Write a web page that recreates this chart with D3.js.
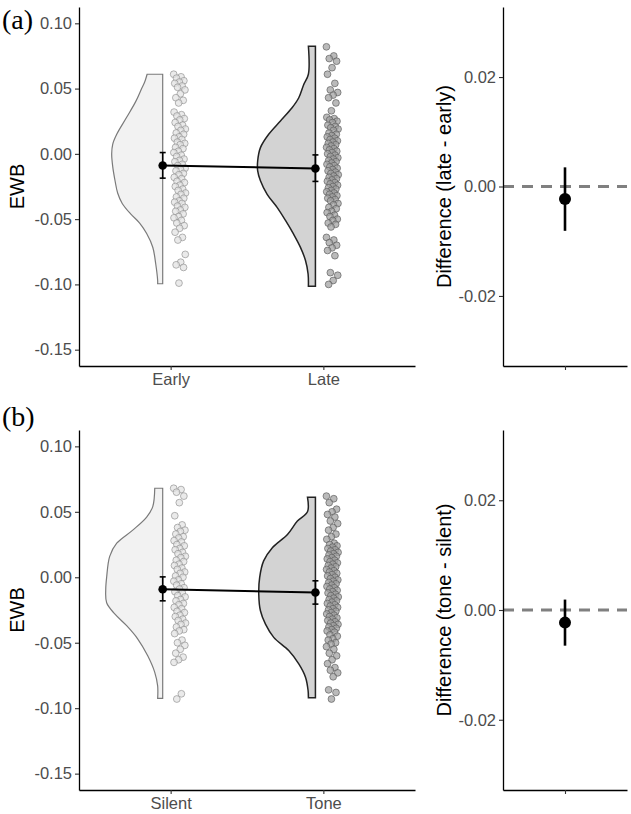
<!DOCTYPE html>
<html>
<head>
<meta charset="utf-8">
<script src="https://cdn.jsdelivr.net/npm/d3@7"></script>
<style>
  body { margin: 0; background: #fff; }
  text { font-family: "Liberation Sans", Arial, Helvetica, sans-serif; }
</style>
</head>
<body>
<script>
const width = 631,
  height = 814;

// ---- data ----
const catsA = ["Early", "Late"];
const catsB = ["Silent", "Tone"];

// individual EWB values (jittered dots)
const earlyEWB = [
  0.061, 0.059, 0.058, 0.056, 0.055, 0.054, 0.052, 0.051, 0.049, 0.046, 0.043, 0.041, 0.039,
  0.032, 0.030, 0.029, 0.027, 0.026, 0.024, 0.022, 0.021, 0.019, 0.018, 0.016, 0.015, 0.013,
  0.012, 0.011, 0.009, 0.008, 0.007, 0.005, 0.004, 0.002, 0.001, -0.001, -0.002, -0.004,
  -0.005, -0.006, -0.008, -0.009, -0.011, -0.012, -0.013, -0.015, -0.016, -0.018, -0.019,
  -0.021, -0.022, -0.024, -0.025, -0.027, -0.028, -0.030, -0.031, -0.033, -0.034, -0.036,
  -0.037, -0.038, -0.040, -0.041, -0.043, -0.044, -0.046, -0.048, -0.049, -0.051, -0.053,
  -0.055, -0.057, -0.060, -0.064, -0.066, -0.077, -0.083, -0.085, -0.087, -0.099
];
const lateEWB = [
  0.082, 0.075, 0.073, 0.071, 0.066, 0.061, 0.054, 0.049, 0.047, 0.045, 0.043, 0.039, 0.033,
  0.028, 0.027, 0.026, 0.025, 0.024, 0.022, 0.021, 0.020, 0.019, 0.018, 0.016, 0.015, 0.014,
  0.013, 0.012, 0.011, 0.010, 0.009, 0.008, 0.007, 0.006, 0.005, 0.004, 0.003, 0.002, 0.001,
  0.000, -0.001, -0.002, -0.003, -0.004, -0.005, -0.006, -0.007, -0.008, -0.009, -0.010,
  -0.011, -0.012, -0.013, -0.014, -0.015, -0.016, -0.017, -0.018, -0.019, -0.020, -0.021,
  -0.022, -0.023, -0.024, -0.025, -0.026, -0.027, -0.028, -0.029, -0.030, -0.031, -0.032,
  -0.033, -0.034, -0.035, -0.036, -0.038, -0.039, -0.041, -0.042, -0.044, -0.045, -0.047,
  -0.048, -0.050, -0.051, -0.053, -0.054, -0.056, -0.064, -0.066, -0.068, -0.070, -0.072,
  -0.074, -0.078, -0.091, -0.093, -0.097, -0.100
];
const silentEWB = [
  0.068, 0.067, 0.065, 0.062, 0.057, 0.047, 0.040, 0.038, 0.036, 0.035, 0.033, 0.031, 0.030,
  0.028, 0.027, 0.025, 0.024, 0.022, 0.021, 0.019, 0.018, 0.016, 0.015, 0.013, 0.012, 0.010,
  0.009, 0.007, 0.006, 0.004, 0.003, 0.001, 0.000, -0.002, -0.003, -0.005, -0.006, -0.008,
  -0.009, -0.011, -0.012, -0.014, -0.015, -0.017, -0.018, -0.020, -0.021, -0.023, -0.024,
  -0.026, -0.027, -0.029, -0.030, -0.032, -0.033, -0.035, -0.036, -0.038, -0.040, -0.041,
  -0.043, -0.048, -0.050, -0.052, -0.055, -0.058, -0.061, -0.063, -0.065, -0.089, -0.093
];
const toneEWB = [
  0.062, 0.060, 0.057, 0.052, 0.050, 0.048, 0.046, 0.043, 0.041, 0.038, 0.036, 0.033, 0.031,
  0.029, 0.026, 0.025, 0.024, 0.023, 0.022, 0.021, 0.020, 0.019, 0.018, 0.017, 0.016, 0.015,
  0.014, 0.013, 0.012, 0.011, 0.010, 0.009, 0.008, 0.007, 0.006, 0.005, 0.004, 0.003, 0.002,
  0.001, 0.000, -0.001, -0.002, -0.003, -0.004, -0.005, -0.006, -0.007, -0.008, -0.009,
  -0.010, -0.011, -0.012, -0.013, -0.014, -0.015, -0.016, -0.017, -0.018, -0.019, -0.020,
  -0.021, -0.022, -0.023, -0.024, -0.025, -0.026, -0.027, -0.028, -0.029, -0.030, -0.031,
  -0.032, -0.033, -0.034, -0.035, -0.036, -0.037, -0.038, -0.039, -0.040, -0.041, -0.042,
  -0.044, -0.045, -0.047, -0.048, -0.050, -0.051, -0.053, -0.055, -0.058, -0.060, -0.063,
  -0.066, -0.069, -0.071, -0.073, -0.076, -0.086, -0.088, -0.093
];

// half-violin outlines: [EWB value, half width in category units]
const earlyViolin = [[0.061, 0.102], [0.055, 0.118], [0.050, 0.138], [0.040, 0.177], [0.028, 0.236],
  [0.015, 0.301], [0.0075, 0.327], [0.0, 0.334], [-0.010, 0.327], [-0.0206, 0.312], [-0.030, 0.295],
  [-0.038, 0.265], [-0.046, 0.210], [-0.053, 0.151], [-0.061, 0.105], [-0.0715, 0.065],
  [-0.084, 0.046], [-0.097, 0.033], [-0.0995, 0.033]];
const lateViolin = [[0.0824, 0.046], [0.061, 0.046], [0.053, 0.077], [0.043, 0.109], [0.0353, 0.153],
  [0.0252, 0.229], [0.015, 0.306], [0.0048, 0.360], [-0.0053, 0.378], [-0.013, 0.378], [-0.0206, 0.360],
  [-0.031, 0.316], [-0.041, 0.251], [-0.051, 0.196], [-0.0617, 0.142], [-0.0716, 0.098],
  [-0.0817, 0.065], [-0.092, 0.048], [-0.1015, 0.046]];
const silentViolin = [[0.068, 0.052], [0.054, 0.065], [0.046, 0.105], [0.036, 0.196], [0.026, 0.301],
  [0.016, 0.347], [0.0, 0.367], [-0.0094, 0.373], [-0.0195, 0.367], [-0.028, 0.314], [-0.037, 0.236],
  [-0.047, 0.164], [-0.060, 0.098], [-0.0726, 0.052], [-0.083, 0.033], [-0.0925, 0.033]];
const toneViolin = [[0.0612, 0.052], [0.050, 0.052], [0.0429, 0.118], [0.0327, 0.183], [0.0226, 0.282],
  [0.0125, 0.339], [0.0, 0.365], [-0.0129, 0.371], [-0.0256, 0.360], [-0.0358, 0.327], [-0.0459, 0.273],
  [-0.056, 0.175], [-0.0662, 0.109], [-0.0763, 0.065], [-0.0865, 0.048], [-0.092, 0.046]];

// group means with error bars
const meansA = [-0.0089, -0.0112];
const lowerA = [-0.0186, -0.0211];
const upperA = [0.0010, -0.0008];
const meansB = [-0.0091, -0.0116];
const lowerB = [-0.0180, -0.0205];
const upperB = [0.0003, -0.0027];

// paired difference estimates with CI
const diffEst = [-0.0023, -0.0023];
const diffLower = [-0.0081, -0.0065];
const diffUpper = [0.0035, 0.0019];
const diffTitles = ["Difference (late - early)", "Difference (tone - silent)"];

const yTicks = [0.10, 0.05, 0.00, -0.05, -0.10, -0.15];
const diffTicks = [0.02, 0.00, -0.02];

// ---- drawing ----
const fmt = d3.formatLocale({ decimal: ".", thousands: ",", grouping: [3], currency: ["", ""], minus: "-" }).format(".2f");

const svg = d3.select("body").append("svg")
  .attr("width", width)
  .attr("height", height);

const panels = [
  { label: "(a)", labelY: 29, top: 7, bottom: 366, cats: catsA,
    groups: [earlyEWB, lateEWB], violins: [earlyViolin, lateViolin],
    means: meansA, lo: lowerA, hi: upperA, k: 0 },
  { label: "(b)", labelY: 426, top: 430, bottom: 790, cats: catsB,
    groups: [silentEWB, toneEWB], violins: [silentViolin, toneViolin],
    means: meansB, lo: lowerB, hi: upperB, k: 1 }
];

const styles = [
  { vFill: "#f2f2f2", vStroke: "#7a7a7a", vWidth: 1.2, pFill: "#e3e3e3", pStroke: "#8c8c8c" },
  { vFill: "#d3d3d3", vStroke: "#222", vWidth: 1.5, pFill: "#a3a3a3", pStroke: "#575757" }
];

const violinOffset = 0.052;

function styleAxis(a) {
  a.select(".domain").attr("stroke", "#000").attr("stroke-width", 1.3);
  a.selectAll(".tick line").attr("stroke", "#333").attr("stroke-width", 1.1);
  a.selectAll(".tick text").attr("fill", "#4d4d4d").attr("font-size", 16.5)
    .attr("font-family", "Liberation Sans, Arial, sans-serif");
}

panels.forEach(p => {
  const g = svg.append("g");

  const x = d3.scaleLinear().domain([0.4, 2.6]).range([79, 415]);
  const y = d3.scaleLinear().domain([-0.1625, 0.1125]).range([p.bottom, p.top]);

  // half violins
  p.violins.forEach((prof, gi) => {
    const pos = gi + 1;
    const area = d3.area()
      .y(d => y(d[0]))
      .x0(d => x(pos - violinOffset - d[1]))
      .x1(x(pos - violinOffset))
      .curve(d3.curveCatmullRom);
    g.append("path")
      .attr("d", area(prof))
      .attr("fill", styles[gi].vFill)
      .attr("stroke", styles[gi].vStroke)
      .attr("stroke-width", styles[gi].vWidth);
  });

  // jittered points
  p.groups.forEach((vals, gi) => {
    const pos = gi + 1;
    g.append("g").selectAll("circle")
      .data(vals)
      .enter()
      .append("circle")
      .attr("cx", (d, i) => x(pos + 0.02 + 0.078 * ((i * 0.618034) % 1)))
      .attr("cy", d => y(d))
      .attr("r", 3.4)
      .attr("fill", styles[gi].pFill)
      .attr("fill-opacity", 0.75)
      .attr("stroke", styles[gi].pStroke)
      .attr("stroke-opacity", 0.8)
      .attr("stroke-width", 0.8);
  });

  // mean line + error bars + mean points
  const mx = i => x(i + 1 - violinOffset);
  g.append("path")
    .attr("d", d3.line().x((d, i) => mx(i)).y(d => y(d))(p.means))
    .attr("stroke", "#000")
    .attr("stroke-width", 2)
    .attr("fill", "none");

  p.means.forEach((m, i) => {
    g.append("line")
      .attr("x1", mx(i)).attr("x2", mx(i))
      .attr("y1", y(p.lo[i])).attr("y2", y(p.hi[i]))
      .attr("stroke", "#000").attr("stroke-width", 1.6);
    [p.lo[i], p.hi[i]].forEach(v => {
      g.append("line")
        .attr("x1", mx(i) - 3).attr("x2", mx(i) + 3)
        .attr("y1", y(v)).attr("y2", y(v))
        .attr("stroke", "#000").attr("stroke-width", 1.6);
    });
    g.append("circle")
      .attr("cx", mx(i)).attr("cy", y(m))
      .attr("r", 4.3).attr("fill", "#000");
  });

  // axes
  const yAxis = d3.axisLeft(y).tickValues(yTicks).tickFormat(fmt).tickSize(4).tickSizeOuter(0).tickPadding(3);
  const xAxis = d3.axisBottom(x).tickValues([1, 2]).tickFormat(d => p.cats[d - 1]).tickSize(4).tickSizeOuter(0).tickPadding(3);

  styleAxis(g.append("g").attr("transform", "translate(79,0)").call(yAxis));
  styleAxis(g.append("g").attr("transform", `translate(0,${p.bottom})`).call(xAxis));

  g.append("text")
    .attr("transform", `translate(24,${(p.top + p.bottom) / 2}) rotate(-90)`)
    .attr("text-anchor", "middle")
    .attr("font-size", 20)
    .attr("fill", "#000")
    .text("EWB");

  g.append("text")
    .attr("x", 2)
    .attr("y", p.labelY)
    .style("font-family", "'Liberation Serif', 'Times New Roman', serif")
    .attr("font-size", 28)
    .attr("fill", "#000")
    .text(p.label);

  // ---- difference panel ----
  const dx = d3.scaleLinear().domain([0.4, 1.6]).range([503, 627]);
  const dy = d3.scaleLinear().domain([-0.0328, 0.0328]).range([p.bottom, p.top]);

  g.append("line")
    .attr("x1", dx(0.4)).attr("x2", dx(1.6))
    .attr("y1", dy(0)).attr("y2", dy(0))
    .attr("stroke", "#808080")
    .attr("stroke-width", 2.8)
    .attr("stroke-dasharray", "11,8");

  g.append("line")
    .attr("x1", dx(1)).attr("x2", dx(1))
    .attr("y1", dy(diffLower[p.k])).attr("y2", dy(diffUpper[p.k]))
    .attr("stroke", "#000").attr("stroke-width", 2.6);
  g.append("circle")
    .attr("cx", dx(1)).attr("cy", dy(diffEst[p.k]))
    .attr("r", 6).attr("fill", "#000");

  const dyAxis = d3.axisLeft(dy).tickValues(diffTicks).tickFormat(fmt).tickSize(4).tickSizeOuter(0).tickPadding(3);
  const dxAxis = d3.axisBottom(dx).tickValues([1]).tickFormat("").tickSize(4).tickSizeOuter(0);
  styleAxis(g.append("g").attr("transform", "translate(503,0)").call(dyAxis));
  styleAxis(g.append("g").attr("transform", `translate(0,${p.bottom})`).call(dxAxis));

  g.append("text")
    .attr("transform", `translate(451,${(p.top + p.bottom) / 2}) rotate(-90)`)
    .attr("text-anchor", "middle")
    .attr("font-size", 20)
    .attr("fill", "#000")
    .text(diffTitles[p.k]);
});
</script>
</body>
</html>
